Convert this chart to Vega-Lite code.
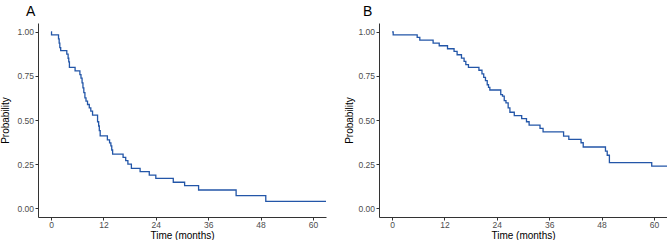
{
  "$schema": "https://vega.github.io/schema/vega-lite/v6.json",
  "padding": {"left": 0, "top": 5, "right": 0, "bottom": 0},
  "background": "white",
  "config": {
    "view": {"stroke": null},
    "font": "Liberation Sans",
    "axis": {
      "grid": false,
      "domainColor": "#333333",
      "domainWidth": 1,
      "tickColor": "#333333",
      "tickSize": 3,
      "labelFont": "Liberation Sans",
      "titleFont": "Liberation Sans",
      "labelFontSize": 8.5,
      "titleFontSize": 10,
      "labelColor": "#4D4D4D",
      "titleColor": "#000000",
      "titleFontWeight": "normal",
      "labelPadding": 1.5
    },
    "title": {"fontSize": 14, "fontWeight": "normal", "font": "Liberation Sans", "color": "#000000", "anchor": "start", "frame": "group"}
  },
  "datasets": {
    "a": [
      {"t": 0, "p": 1.0}, {"t": 0.1, "p": 0.983}, {"t": 1.7, "p": 0.96}, {"t": 1.85, "p": 0.936},
      {"t": 2.0, "p": 0.91}, {"t": 2.2, "p": 0.893}, {"t": 3.6, "p": 0.874}, {"t": 3.9, "p": 0.85},
      {"t": 4.05, "p": 0.83}, {"t": 4.2, "p": 0.798}, {"t": 5.5, "p": 0.779}, {"t": 6.6, "p": 0.757},
      {"t": 6.85, "p": 0.738}, {"t": 7.1, "p": 0.71}, {"t": 7.3, "p": 0.682}, {"t": 7.5, "p": 0.655},
      {"t": 7.75, "p": 0.626}, {"t": 8.0, "p": 0.607}, {"t": 8.35, "p": 0.588}, {"t": 8.75, "p": 0.569},
      {"t": 9.1, "p": 0.55}, {"t": 9.5, "p": 0.528}, {"t": 10.65, "p": 0.49}, {"t": 10.9, "p": 0.466},
      {"t": 11.05, "p": 0.44}, {"t": 11.25, "p": 0.41}, {"t": 12.9, "p": 0.387}, {"t": 13.4, "p": 0.37},
      {"t": 13.7, "p": 0.353}, {"t": 13.9, "p": 0.33}, {"t": 14.1, "p": 0.306}, {"t": 16.5, "p": 0.288},
      {"t": 17.1, "p": 0.27}, {"t": 17.6, "p": 0.25}, {"t": 18.4, "p": 0.226}, {"t": 20.4, "p": 0.207},
      {"t": 22.5, "p": 0.188}, {"t": 24.0, "p": 0.169}, {"t": 28.0, "p": 0.147}, {"t": 30.6, "p": 0.128},
      {"t": 33.8, "p": 0.103}, {"t": 42.4, "p": 0.071}, {"t": 49.2, "p": 0.039}, {"t": 63.0, "p": 0.039}
    ],
    "b": [
      {"t": 0, "p": 1.0}, {"t": 0.25, "p": 0.983}, {"t": 5.75, "p": 0.968}, {"t": 6.35, "p": 0.953},
      {"t": 9.4, "p": 0.936}, {"t": 10.8, "p": 0.921}, {"t": 12.7, "p": 0.904}, {"t": 14.2, "p": 0.889},
      {"t": 14.9, "p": 0.87}, {"t": 15.9, "p": 0.851}, {"t": 16.5, "p": 0.832}, {"t": 16.9, "p": 0.814},
      {"t": 17.5, "p": 0.798}, {"t": 19.9, "p": 0.782}, {"t": 20.6, "p": 0.761}, {"t": 21.0, "p": 0.742},
      {"t": 21.4, "p": 0.723}, {"t": 21.8, "p": 0.70}, {"t": 22.1, "p": 0.685}, {"t": 22.4, "p": 0.67},
      {"t": 24.9, "p": 0.644}, {"t": 25.3, "p": 0.635}, {"t": 25.7, "p": 0.61}, {"t": 26.1, "p": 0.597},
      {"t": 26.6, "p": 0.569}, {"t": 27.0, "p": 0.544}, {"t": 28.0, "p": 0.525}, {"t": 29.7, "p": 0.508},
      {"t": 30.8, "p": 0.49}, {"t": 31.4, "p": 0.471}, {"t": 33.9, "p": 0.452}, {"t": 34.6, "p": 0.433},
      {"t": 39.3, "p": 0.409}, {"t": 40.5, "p": 0.39}, {"t": 43.3, "p": 0.371}, {"t": 43.8, "p": 0.347},
      {"t": 48.9, "p": 0.324}, {"t": 49.3, "p": 0.30}, {"t": 49.8, "p": 0.258}, {"t": 59.5, "p": 0.239},
      {"t": 63.0, "p": 0.239}
    ]
  },
  "spacing": 18,
  "hconcat": [
    {
      "title": {"text": "A", "dx": -12},
      "width": 288,
      "height": 194,
      "data": {"name": "a"},
      "mark": {"type": "line", "interpolate": "step-after", "color": "#2356A8", "strokeWidth": 1.3, "clip": true},
      "encoding": {
        "x": {"field": "t", "type": "quantitative", "scale": {"domain": [-3, 63], "nice": false, "zero": false},
              "axis": {"values": [0, 12, 24, 36, 48, 60], "title": "Time (months)", "titlePadding": 1, "labelPadding": 0.5}},
        "y": {"field": "p", "type": "quantitative", "scale": {"domain": [-0.05, 1.05], "nice": false},
              "axis": {"values": [0, 0.25, 0.5, 0.75, 1], "format": ".2f", "title": "Probability", "titlePadding": 6}}
      }
    },
    {
      "title": {"text": "B", "dx": -16},
      "width": 288,
      "height": 194,
      "data": {"name": "b"},
      "mark": {"type": "line", "interpolate": "step-after", "color": "#2356A8", "strokeWidth": 1.3, "clip": true},
      "encoding": {
        "x": {"field": "t", "type": "quantitative", "scale": {"domain": [-3, 63], "nice": false, "zero": false},
              "axis": {"values": [0, 12, 24, 36, 48, 60], "title": "Time (months)", "titlePadding": 1, "labelPadding": 0.5}},
        "y": {"field": "p", "type": "quantitative", "scale": {"domain": [-0.05, 1.05], "nice": false},
              "axis": {"values": [0, 0.25, 0.5, 0.75, 1], "format": ".2f", "title": "Probability", "titlePadding": 3}}
      }
    }
  ]
}
